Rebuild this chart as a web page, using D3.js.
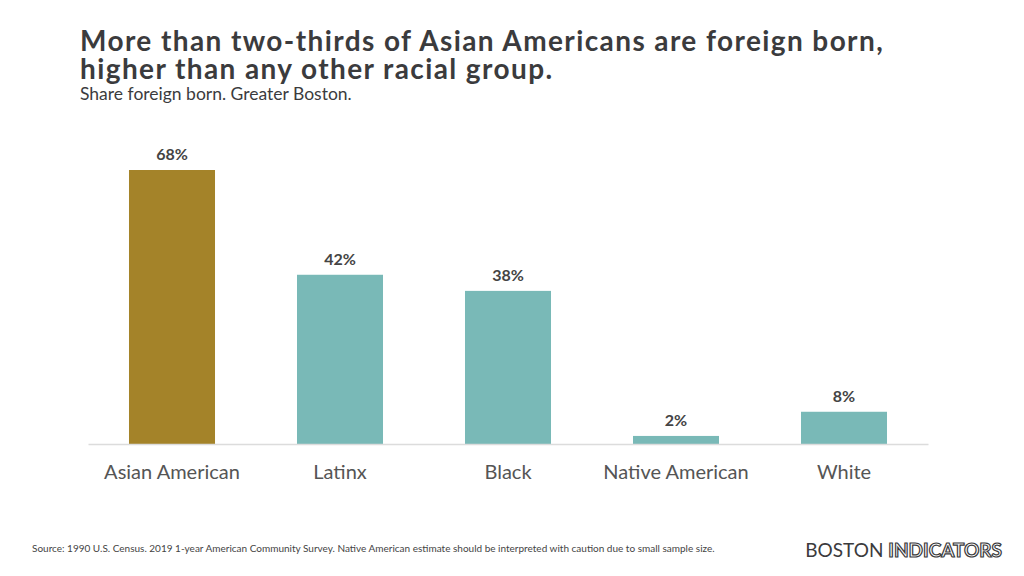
<!DOCTYPE html>
<html>
<head>
<meta charset="utf-8">
<script src="https://cdn.jsdelivr.net/npm/d3@7"></script>
<style>
    body { margin: 0; background: #fff; }
    svg text { font-family: Lato, "Open Sans", sans-serif; }
</style>
</head>
<body>
<div id="draw"></div>
<script>
//数据
var categories = ["Asian American", "Latinx", "Black", "Native American", "White"];
var values = [68, 42, 38, 2, 8];
var highlight = ["Asian American"];

var w = 1024, h = 576;
var svg = d3.select("#draw").append("svg")
    .attr("width", w)
    .attr("height", h);

//标题
svg.append("text").attr("x", 80).attr("y", 51)
    .attr("font-size", "28px").attr("font-weight", "bold").attr("fill", "#3b3b3d")
    .attr("letter-spacing", "1.4px")
    .text("More than two-thirds of Asian Americans are foreign born,");
svg.append("text").attr("x", 80).attr("y", 79)
    .attr("font-size", "28px").attr("font-weight", "bold").attr("fill", "#3b3b3d")
    .attr("letter-spacing", "1.4px")
    .text("higher than any other racial group.");
svg.append("text").attr("x", 80).attr("y", 100)
    .attr("font-size", "17.5px").attr("fill", "#3b3b3d")
    .text("Share foreign born. Greater Boston.");

//比例尺
var x = d3.scaleBand()
    .domain(categories)
    .range([88, 928])
    .paddingInner(0.488)
    .paddingOuter(0.244);
var y = d3.scaleLinear()
    .domain([0, 68])
    .range([444, 170]);

//柱子
svg.selectAll("rect.bar")
    .data(categories)
    .enter()
    .append("rect")
    .attr("class", "bar")
    .attr("x", function(d) { return x(d); })
    .attr("y", function(d, i) { return y(values[i]); })
    .attr("width", x.bandwidth())
    .attr("height", function(d, i) { return y(0) - y(values[i]); })
    .attr("fill", function(d) {
        return highlight.indexOf(d) >= 0 ? "#a48329" : "#79b9b7";
    });

//数值标注
svg.selectAll("text.val")
    .data(categories)
    .enter()
    .append("text")
    .attr("class", "val")
    .attr("x", function(d) { return x(d) + x.bandwidth() / 2; })
    .attr("y", function(d, i) { return y(values[i]) - 10; })
    .attr("text-anchor", "middle")
    .attr("font-size", "16px")
    .attr("font-weight", "bold")
    .attr("fill", "#444")
    .text(function(d, i) { return values[i] + "%"; });

//x轴
var xAxis = svg.append("g")
    .attr("transform", "translate(0," + y(0) + ")")
    .call(d3.axisBottom(x).tickSize(0).tickPadding(21));
xAxis.select(".domain").attr("stroke", "#dcdcdc").attr("stroke-width", 1.5);
xAxis.selectAll("text")
    .attr("font-size", "20px")
    .attr("fill", "#555")
    .style("font-family", "Lato, 'Open Sans', sans-serif");

//来源
svg.append("text").attr("x", 32).attr("y", 552)
    .attr("font-size", "10px").attr("fill", "#444")
    .text("Source: 1990 U.S. Census. 2019 1-year American Community Survey. Native American estimate should be interpreted with caution due to small sample size.");

//标志
var logo = svg.append("text").attr("x", 1002).attr("y", 557)
    .attr("text-anchor", "end").attr("font-size", "19px");
logo.append("tspan").attr("fill", "#3b3b3d").text("BOSTON ");
logo.append("tspan").attr("fill", "#fff").attr("stroke", "#3b3b3d")
    .attr("stroke-width", 1.2).attr("font-weight", "bold").text("INDICATORS");
</script>
</body>
</html>
